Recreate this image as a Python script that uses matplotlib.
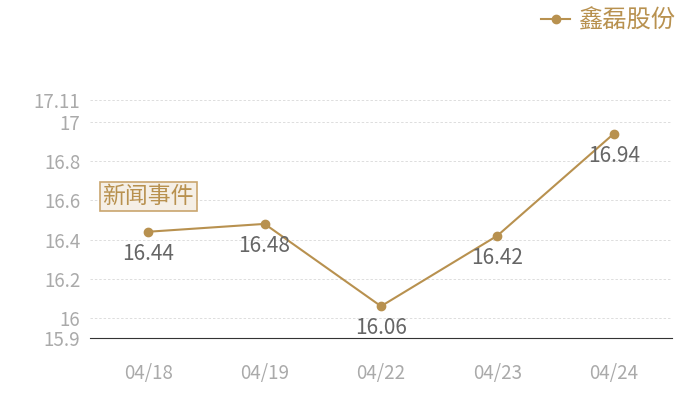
import numpy as np
import matplotlib.pyplot as plt

plt.rcParams['font.family'] = ['Noto Sans CJK SC', 'DejaVu Sans']

#data
dates = ['04/18', '04/19', '04/22', '04/23', '04/24']
prices = [16.44, 16.48, 16.06, 16.42, 16.94]
yticks = [15.9, 16, 16.2, 16.4, 16.6, 16.8, 17, 17.11]
ytick_labels = ['15.9', '16', '16.2', '16.4', '16.6', '16.8', '17', '17.11']
series_name = '鑫磊股份'
event_text = '新闻事件'
event_y = 16.62

gold = '#b8914f'

fig = plt.figure(figsize=(7, 4), dpi=100)
ax = fig.add_axes([0.1286, 0.156, 0.8314, 0.593])

x = np.arange(len(dates))
ax.plot(x, prices, color=gold, lw=1.5, marker='o', ms=6, label=series_name)
for xi, p in zip(x, prices):
    ax.annotate(f'{p:g}', (xi, p), xytext=(0, -16), textcoords='offset points',
                ha='center', va='center', fontsize=15, color='#666666')

ax.text(0, event_y, event_text, ha='center', va='center', fontsize=16.5, color=gold,
        bbox=dict(boxstyle='square,pad=0.12', fc='#f5efe6', ec='#c9a56e', lw=1.2))

ax.set_xlim(-0.5, 4.5)
ax.set_ylim(15.9, 17.11)
ax.set_xticks(x)
ax.set_xticklabels(dates)
ax.set_yticks(yticks)
ax.set_yticklabels(ytick_labels)
ax.tick_params(axis='both', length=0, colors='#aaaaaa', labelsize=13.5)
ax.tick_params(axis='x', pad=18)
ax.tick_params(axis='y', pad=7)
for yt in yticks[1:]:
    ax.axhline(yt, color='#dddddd', lw=0.7, ls=(0, (2.5, 2)), zorder=0)
for s in ['top', 'right', 'left']:
    ax.spines[s].set_visible(False)
ax.spines['bottom'].set_color('#333333')

leg = fig.legend(loc='upper right', bbox_to_anchor=(0.995, 1.035), frameon=False,
                 fontsize=17.5, handlelength=1.2, handletextpad=0.3)
for t in leg.get_texts():
    t.set_color(gold)

plt.savefig('out.png')
